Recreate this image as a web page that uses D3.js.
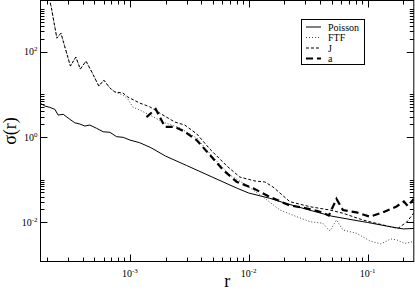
<!DOCTYPE html>
<html>
<head>
<meta charset="utf-8">
<script src="https://cdn.jsdelivr.net/npm/d3@7"></script>
<style>
  body { margin: 0; background: #fff; }
  svg { display: block; font-family: "Liberation Serif", "DejaVu Serif", serif; }
</style>
</head>
<body>
<svg id="chart" width="415" height="290"></svg>
<script>
try{

/*========================================
	Data
========================================*/

var rPoisson = [1.77e-4, 1.93e-4, 2.12e-4, 2.34e-4, 2.49e-4, 2.75e-4, 3.13e-4, 3.44e-4, 3.80e-4, 4.18e-4, 4.61e-4, 5.25e-4, 5.96e-4, 6.79e-4, 7.73e-4, 8.78e-4, 1.0e-3, 1.21e-3, 1.5e-3, 2e-3, 3e-3, 5e-3, 8e-3, 1e-2, 1.5e-2, 2e-2, 3e-2, 5e-2, 8e-2, 0.1, 0.15, 0.2, 0.245];
var sigmaPoisson = [6.17, 5.33, 4.97, 4.46, 3.28, 3.41, 2.60, 2.16, 2.02, 1.81, 1.91, 1.60, 1.33, 1.29, 1.02, 0.984, 0.85, 0.735, 0.564, 0.356, 0.215, 0.113, 0.0627, 0.0486, 0.0366, 0.0284, 0.0205, 0.0139, 0.0110, 0.00989, 0.0080, 0.00697, 0.00716];

var rFTF = [2.0e-4, 2.18e-4, 2.43e-4, 2.63e-4, 2.84e-4, 3.16e-4, 3.51e-4, 3.83e-4, 4.27e-4, 4.79e-4, 5.48e-4, 6.04e-4, 6.79e-4, 7.48e-4, 8.73e-4, 9.62e-4, 1.06e-3, 1.21e-3, 1.47e-3, 1.90e-3, 2.63e-3, 3.66e-3, 4.99e-3, 6.94e-3, 8.93e-3, 1.32e-2, 1.83e-2, 2.53e-2, 3.27e-2, 4.21e-2, 4.82e-2, 5.48e-2, 6.20e-2, 8.08e-2, 0.1045, 0.1294, 0.157, 0.1764, 0.206, 0.245];
var sigmaFTF = [3100, 1120, 209, 274, 129, 46.2, 75.2, 39.3, 60.5, 33.4, 15.7, 21.7, 14.1, 11.4, 9.66, 7.78, 5.05, 4.30, 3.28, 2.25, 1.63, 0.948, 0.340, 0.1285, 0.0834, 0.0392, 0.0194, 0.01353, 0.01033, 0.00947, 0.00625, 0.01132, 0.0066, 0.00552, 0.00365, 0.0031, 0.00406, 0.00385, 0.00318, 0.00355];

var rJ = [2.0e-4, 2.18e-4, 2.43e-4, 2.63e-4, 2.84e-4, 3.16e-4, 3.51e-4, 3.83e-4, 4.27e-4, 4.79e-4, 5.48e-4, 6.04e-4, 6.79e-4, 7.48e-4, 8.73e-4, 9.62e-4, 1.21e-3, 1.47e-3, 1.90e-3, 2.39e-3, 2.90e-3, 3.66e-3, 4.71e-3, 6.55e-3, 8.42e-3, 1.13e-2, 1.37e-2, 1.60e-2, 2.22e-2, 3.27e-2, 4.82e-2, 6.20e-2, 9.13e-2, 0.1345, 0.180, 0.214, 0.245];
var sigmaJ = [3100, 1120, 209, 274, 129, 46.2, 75.2, 39.3, 60.5, 33.4, 15.7, 21.7, 14.1, 11.4, 10.8, 8.67, 6.27, 5.13, 3.28, 2.25, 1.91, 1.18, 0.523, 0.209, 0.115, 0.0929, 0.0881, 0.0673, 0.0304, 0.0232, 0.0194, 0.0163, 0.0113, 0.00865, 0.00716, 0.01016, 0.0165];

var rA = [1.38e-3, 1.65e-3, 1.97e-3, 2.39e-3, 2.90e-3, 3.64e-3, 4.71e-3, 6.10e-3, 7.90e-3, 1.09e-2, 1.51e-2, 2.22e-2, 2.97e-2, 3.97e-2, 4.72e-2, 5.48e-2, 6.20e-2, 8.08e-2, 0.1045, 0.1345, 0.1754, 0.202, 0.218, 0.245];
var sigmaA = [2.94, 4.53, 1.74, 1.72, 1.33, 0.85, 0.378, 0.168, 0.0895, 0.0627, 0.0392, 0.0248, 0.0216, 0.0177, 0.01443, 0.0352, 0.0194, 0.0170, 0.01353, 0.0170, 0.0235, 0.0307, 0.0241, 0.0352];

var seriesNames = ["Poisson", "FTF", "J", "a"];

var xMajorTicks = [1e-3, 1e-2, 1e-1];
var xTickLabels = ["-3", "-2", "-1"];
var yMajorTicks = [1e-2, 1e0, 1e2];
var yTickLabels = ["-2", "0", "2"];

/*========================================
	Layout
========================================*/

var svg = d3.select("#chart");

var plot = { left: 40.5, right: 413.8, top: 0.5, bottom: 261.5 };

var x = d3.scaleLog().domain([1.77e-4, 0.245]).range([plot.left, plot.right]);
var y = d3.scaleLog().domain([1.2e-3, 1600]).range([plot.bottom, plot.top]);

svg.append("clipPath").attr("id", "clip")
	.append("rect")
	.attr("x", plot.left).attr("y", plot.top)
	.attr("width", plot.right - plot.left).attr("height", plot.bottom - plot.top);

/*========================================
	Ticks
========================================*/

// x: minor 2..9 every decade
var xMinor = [];
[-4, -3, -2, -1].forEach(function(k){
	for(var m = 2; m <= 9; m++){
		var v = m * Math.pow(10, k);
		if(v > x.domain()[0] && v < x.domain()[1]) xMinor.push(v);
	}
});

// y: major every 2 decades, minor only in the decade above each major
var yMinor = [];
[-2, 0, 2].forEach(function(k){
	for(var m = 2; m <= 10; m++){
		var v = m * Math.pow(10, k);
		if(v > y.domain()[0] && v < y.domain()[1]) yMinor.push(v);
	}
});

var tickGroup = svg.append("g").attr("stroke", "#000").attr("stroke-width", 1);
var majorLen = 7, minorLen = 4;

var drawXTicks = function(vals, len){
	vals.forEach(function(v){
		var px = Math.round(x(v)) + 0.5;
		tickGroup.append("line").attr("x1", px).attr("x2", px).attr("y1", plot.bottom).attr("y2", plot.bottom - len);
		tickGroup.append("line").attr("x1", px).attr("x2", px).attr("y1", plot.top).attr("y2", plot.top + len);
	});
};
var drawYTicks = function(vals, len){
	vals.forEach(function(v){
		var py = Math.round(y(v)) + 0.5;
		tickGroup.append("line").attr("y1", py).attr("y2", py).attr("x1", plot.left).attr("x2", plot.left + len);
		tickGroup.append("line").attr("y1", py).attr("y2", py).attr("x1", plot.right).attr("x2", plot.right - len);
	});
};
drawXTicks(xMinor, minorLen);
drawXTicks(xMajorTicks, majorLen);
drawYTicks(yMinor, minorLen);
drawYTicks(yMajorTicks, majorLen);

// frame
svg.append("rect")
	.attr("x", plot.left).attr("y", plot.top)
	.attr("width", plot.right - plot.left).attr("height", plot.bottom - plot.top)
	.attr("fill", "none").attr("stroke", "#000").attr("stroke-width", 1);

/*========================================
	Tick labels
========================================*/

xMajorTicks.forEach(function(v, i){
	var t = svg.append("text")
		.attr("x", x(v)).attr("y", 277)
		.attr("text-anchor", "middle")
		.attr("font-size", 10);
	t.append("tspan").text("10");
	t.append("tspan").attr("dy", -4).attr("font-size", 7).text(xTickLabels[i]);
});

yMajorTicks.forEach(function(v, i){
	var t = svg.append("text")
		.attr("x", 37.5).attr("y", y(v) + 3.5)
		.attr("text-anchor", "end")
		.attr("font-size", 10);
	t.append("tspan").text("10");
	t.append("tspan").attr("dy", -4).attr("font-size", 7).text(yTickLabels[i]);
});

/*========================================
	Axis titles
========================================*/

svg.append("text")
	.attr("x", (plot.left + plot.right) / 2).attr("y", 287)
	.attr("text-anchor", "middle")
	.attr("font-size", 18)
	.text("r");

svg.append("text")
	.attr("transform", "translate(16," + ((plot.top + plot.bottom) / 2) + ") rotate(-90)")
	.attr("text-anchor", "middle")
	.attr("font-size", 18)
	.text("σ(r)");

/*========================================
	Curves
========================================*/

var styles = {
	"Poisson": { width: 1, dash: null, color: "#000" },
	"FTF": { width: 1, dash: "1,2", color: "#444" },
	"J": { width: 1, dash: "3,2", color: "#000" },
	"a": { width: 2.2, dash: "7,4", color: "#000" }
};

var zipUp = function(rs, ss){
	return rs.map(function(r, i){ return [r, ss[i]]; });
};

var curves = {
	"Poisson": zipUp(rPoisson, sigmaPoisson),
	"FTF": zipUp(rFTF, sigmaFTF),
	"J": zipUp(rJ, sigmaJ),
	"a": zipUp(rA, sigmaA)
};

var line = d3.line()
	.x(function(d){ return x(d[0]); })
	.y(function(d){ return y(d[1]); });

var curveGroup = svg.append("g").attr("clip-path", "url(#clip)");

seriesNames.forEach(function(name){
	var st = styles[name];
	curveGroup.append("path")
		.datum(curves[name])
		.attr("d", line)
		.attr("fill", "none")
		.attr("stroke", st.color)
		.attr("stroke-width", st.width)
		.attr("stroke-dasharray", st.dash);
});

/*========================================
	Legend
========================================*/

var legend = svg.append("g");
legend.append("rect")
	.attr("x", 301.5).attr("y", 19.5)
	.attr("width", 63).attr("height", 45)
	.attr("fill", "#fff").attr("stroke", "#000").attr("stroke-width", 1);

seriesNames.forEach(function(name, i){
	var st = styles[name];
	var ly = 27 + i * 10.5;
	legend.append("line")
		.attr("x1", 306).attr("x2", 321)
		.attr("y1", ly).attr("y2", ly)
		.attr("stroke", st.color)
		.attr("stroke-width", st.width)
		.attr("stroke-dasharray", st.dash);
	legend.append("text")
		.attr("x", 328).attr("y", ly + 3.5)
		.attr("font-size", 10)
		.text(name);
});

} catch (e) {
	console.log(e);
}
</script>
</body>
</html>
